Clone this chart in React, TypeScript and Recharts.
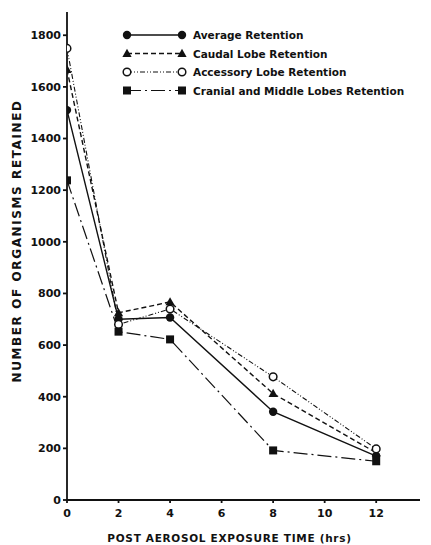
import { LineChart, Line, XAxis, YAxis, Label } from 'recharts';

const hours = [0, 2, 4, 8, 12];
const averageRetention = [1510, 700, 707, 342, 170];
const caudalRetention = [1667, 725, 767, 412, 183];
const accessoryRetention = [1749, 680, 740, 477, 198];
const cranialRetention = [1238, 652, 622, 192, 150];
const xTicks = [0, 2, 4, 6, 8, 10, 12];
const yTicks = [0, 200, 400, 600, 800, 1000, 1200, 1400, 1600, 1800];

const data = hours.map((h, i) => ({
  hours: h,
  average: averageRetention[i],
  caudal: caudalRetention[i],
  accessory: accessoryRetention[i],
  cranial: cranialRetention[i],
}));

const FONT = '"DejaVu Sans", Verdana, sans-serif';
const INK = '#111';

type Marker = 'circle' | 'triangle' | 'open' | 'square';

function drawMarker(kind: Marker, cx: number, cy: number) {
  if (kind === 'circle') return <circle cx={cx} cy={cy} r={4.2} fill={INK} />;
  if (kind === 'open')
    return <circle cx={cx} cy={cy} r={3.8} fill="#fff" stroke={INK} strokeWidth={1.5} />;
  if (kind === 'triangle')
    return (
      <polygon
        points={`${cx},${cy - 4.8} ${cx + 4.6},${cy + 3.4} ${cx - 4.6},${cy + 3.4}`}
        fill={INK}
      />
    );
  return <rect x={cx - 4} y={cy - 4} width={8} height={8} fill={INK} />;
}

const makeDot = (kind: Marker) => (props: any) => {
  const { cx, cy, index } = props;
  if (cx == null || cy == null) return <g key={index} />;
  return <g key={index}>{drawMarker(kind, cx, cy)}</g>;
};

const series = [
  { key: 'average', name: 'Average Retention', marker: 'circle' as Marker, dash: undefined, width: 1.4 },
  { key: 'caudal', name: 'Caudal Lobe Retention', marker: 'triangle' as Marker, dash: '5 3', width: 1.4 },
  { key: 'accessory', name: 'Accessory Lobe Retention', marker: 'open' as Marker, dash: '5 2 1 2 1 2', width: 1.1 },
  { key: 'cranial', name: 'Cranial and Middle Lobes Retention', marker: 'square' as Marker, dash: '14 4 2 4', width: 1.2 },
];

function LegendBox() {
  return (
    <svg width={310} height={80}>
      {series.map((s, i) => {
        const y = 8 + i * 18.5;
        return (
          <g key={s.key}>
            <line x1={8} y1={y} x2={63} y2={y} stroke={INK} strokeWidth={s.width} strokeDasharray={s.dash} />
            {drawMarker(s.marker, 8, y)}
            {drawMarker(s.marker, 63, y)}
            <text x={74} y={y + 4} fontFamily={FONT} fontWeight="bold" fontSize={10.5} fill={INK}>
              {s.name}
            </text>
          </g>
        );
      })}
    </svg>
  );
}

const YTitle = (props: any) => {
  const { viewBox } = props;
  const x = 17;
  const y = viewBox.y + viewBox.height / 2 - 15;
  return (
    <text
      x={x}
      y={y}
      transform={`rotate(-90 ${x} ${y})`}
      textAnchor="middle"
      dominantBaseline="central"
      fill={INK}
      fontFamily={FONT}
      fontWeight="bold"
      fontSize={12}
      letterSpacing={1.6}
    >
      NUMBER OF ORGANISMS RETAINED
    </text>
  );
};

export default function App() {
  return (
    <div style={{ position: 'absolute', left: 0, top: 0, width: 431, height: 545, background: '#fff' }}>
      <LineChart width={431} height={545} data={data} margin={{ top: 12, right: 11, bottom: 5, left: 20 }}>
        <XAxis
          dataKey="hours"
          type="number"
          domain={[0, 13.7]}
          ticks={xTicks}
          allowDataOverflow
          stroke={INK}
          strokeWidth={1.8}
          tickSize={3}
          height={40}
          tick={{ fill: INK, fontFamily: FONT, fontWeight: 'bold', fontSize: 11, dy: 4 }}
        >
          <Label
            value="POST AEROSOL EXPOSURE TIME (hrs)"
            position="insideBottom"
            offset={-2}
            dx={-14}
            style={{ fill: INK, fontFamily: FONT, fontWeight: 'bold', fontSize: 10.5, letterSpacing: 0.7 }}
          />
        </XAxis>
        <YAxis
          type="number"
          domain={[0, 1890]}
          ticks={yTicks}
          allowDataOverflow
          stroke={INK}
          strokeWidth={1.8}
          tickSize={4}
          width={47}
          tick={{ fill: INK, fontFamily: FONT, fontWeight: 'bold', fontSize: 11 }}
        >
          <Label content={YTitle} />
        </YAxis>
        {series.map((s) => (
          <Line
            key={s.key}
            dataKey={s.key}
            name={s.name}
            type="linear"
            stroke={INK}
            strokeWidth={s.width}
            strokeDasharray={s.dash}
            dot={makeDot(s.marker)}
            activeDot={false}
            isAnimationActive={false}
          />
        ))}
      </LineChart>
      <div style={{ position: 'absolute', top: 27, left: 119 }}>
        <LegendBox />
      </div>
    </div>
  );
}
